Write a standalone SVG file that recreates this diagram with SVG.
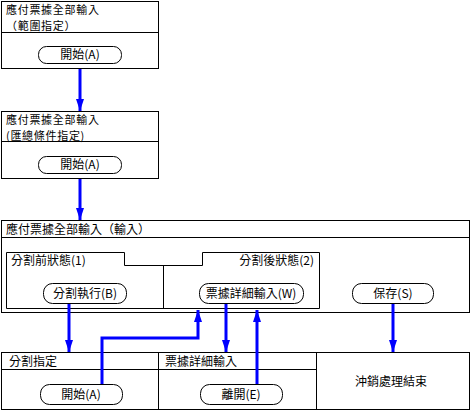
<svg xmlns="http://www.w3.org/2000/svg" width="471" height="411" viewBox="0 0 471 411">
<style>
.box{fill:#fff;stroke:#000;stroke-width:1}
.ln{fill:none;stroke:#000;stroke-width:1}
.btn{fill:#fff;stroke:#000;stroke-width:1}
text{font-family:"Noto Sans CJK TC","Noto Sans CJK JP",sans-serif;font-size:12px;fill:#000}
.t2{font-size:11px;letter-spacing:0.7px}
.c{text-anchor:middle}
.ar{fill:none;stroke:#0000ff;stroke-width:3}
</style>
<defs>
<marker id="ah" markerUnits="userSpaceOnUse" markerWidth="12" markerHeight="18" refX="18" refY="6" viewBox="0 0 18 12" orient="auto">
<path d="M0,0 L18,6 L0,12 Z" fill="#0000ff"/>
</marker>
</defs>
<rect width="471" height="411" fill="#fff"/>

<g id="box1">
<rect class="box" x="1.5" y="1.5" width="157" height="67"/>
<line class="ln" x1="1.5" y1="32.5" x2="158.5" y2="32.5"/>
<text class="t2" x="6" y="13.5">應付票據全部輸入</text>
<text class="t2" x="6" y="29.5">（範圍指定）</text>
<rect class="btn" x="38.5" y="46.5" width="83" height="17" rx="8" ry="8"/>
<text class="c" x="80" y="59">開始(A)</text>
</g>

<g id="box2">
<rect class="box" x="1.5" y="111.5" width="157" height="67"/>
<line class="ln" x1="1.5" y1="141.5" x2="158.5" y2="141.5"/>
<text class="t2" x="6" y="123.5">應付票據全部輸入</text>
<text class="t2" x="6" y="139.5">(匯總條件指定)</text>
<rect class="btn" x="38.5" y="156.5" width="83" height="17" rx="8" ry="8"/>
<text class="c" x="80" y="169">開始(A)</text>
</g>

<g id="box3">
<rect class="box" x="1.5" y="220.5" width="468" height="92"/>
<line class="ln" x1="1.5" y1="237.5" x2="469.5" y2="237.5"/>
<text x="6" y="234">應付票據全部輸入（輸入）</text>
<path class="ln" d="M6.5,252.5 H124.5 V265.5 H202.5 V252.5 H319.5 V308.5 H6.5 Z"/>
<line class="ln" x1="163.5" y1="265.5" x2="163.5" y2="308.5"/>
<text x="11" y="265">分割前狀態(1)</text>
<text x="314" y="265" text-anchor="end">分割後狀態(2)</text>
<rect class="btn" x="43.5" y="283.5" width="83" height="20" rx="9" ry="9"/>
<text class="c" x="85" y="298">分割執行(B)</text>
<rect class="btn" x="199.5" y="283.5" width="104" height="20" rx="9" ry="9"/>
<text class="c" x="251" y="298">票據詳細輸入(W)</text>
<rect class="btn" x="352.5" y="283.5" width="81" height="20" rx="9" ry="9"/>
<text class="c" x="393" y="298">保存(S)</text>
</g>

<g id="box4">
<rect class="box" x="1.5" y="352.5" width="157" height="57"/>
<line class="ln" x1="1.5" y1="369.5" x2="158.5" y2="369.5"/>
<text x="9" y="366">分割指定</text>
<rect class="btn" x="40.5" y="384.5" width="82" height="20" rx="9" ry="9"/>
<text class="c" x="81" y="399">開始(A)</text>
</g>

<g id="box5">
<rect class="box" x="158.5" y="352.5" width="158" height="57"/>
<line class="ln" x1="158.5" y1="369.5" x2="316.5" y2="369.5"/>
<text x="165" y="366">票據詳細輸入</text>
<rect class="btn" x="200.5" y="384.5" width="82" height="20" rx="9" ry="9"/>
<text class="c" x="241" y="399">離開(E)</text>
</g>

<g id="box6">
<rect class="box" x="316.5" y="352.5" width="153" height="57"/>
<text class="c" x="391" y="386">沖銷處理結束</text>
</g>

<g id="connectors">
<line class="ar" x1="80" y1="69" x2="80" y2="111" marker-end="url(#ah)"/>
<line class="ar" x1="80" y1="179" x2="80" y2="220" marker-end="url(#ah)"/>
<line class="ar" x1="69" y1="304" x2="69" y2="352" marker-end="url(#ah)"/>
<polyline class="ar" points="102,384 102,338 198,338 198,310" marker-end="url(#ah)"/>
<line class="ar" x1="226" y1="304" x2="226" y2="352" marker-end="url(#ah)"/>
<line class="ar" x1="257" y1="384" x2="257" y2="310" marker-end="url(#ah)"/>
<line class="ar" x1="393" y1="304" x2="393" y2="352" marker-end="url(#ah)"/>
</g>
</svg>
